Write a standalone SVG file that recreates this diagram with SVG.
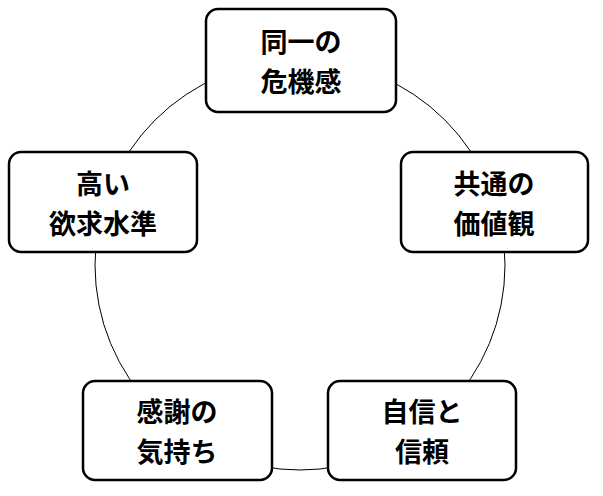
<svg xmlns="http://www.w3.org/2000/svg" width="603" height="496" viewBox="0 0 603 496">
<style>
.b{fill:#fff;stroke:#000;stroke-width:2.5}
.t{font-family:"Liberation Sans","Noto Sans CJK JP",sans-serif;font-size:27px;font-weight:bold;fill:#000;text-anchor:middle}
</style>
<rect width="603" height="496" fill="#fff"/>
<g id="connectors"><circle cx="300" cy="265" r="205" fill="none" stroke="#000" stroke-width="1"/></g>
<g id="n1"><rect class="b" x="206" y="9" width="190" height="103" rx="12"/><text class="t" x="301" y="52">同一の</text><text class="t" x="301" y="92">危機感</text></g>
<g id="n2"><rect class="b" x="401" y="152" width="187" height="100" rx="12"/><text class="t" x="494" y="194">共通の</text><text class="t" x="494" y="234">価値観</text></g>
<g id="n3"><rect class="b" x="328" y="381" width="188" height="99" rx="12"/><text class="t" x="422" y="422">自信と</text><text class="t" x="422" y="462">信頼</text></g>
<g id="n4"><rect class="b" x="83" y="381" width="189" height="99" rx="12"/><text class="t" x="177" y="422">感謝の</text><text class="t" x="177" y="462">気持ち</text></g>
<g id="n5"><rect class="b" x="9" y="152" width="188" height="100" rx="12"/><text class="t" x="103" y="194">高い</text><text class="t" x="103" y="234">欲求水準</text></g>
</svg>
